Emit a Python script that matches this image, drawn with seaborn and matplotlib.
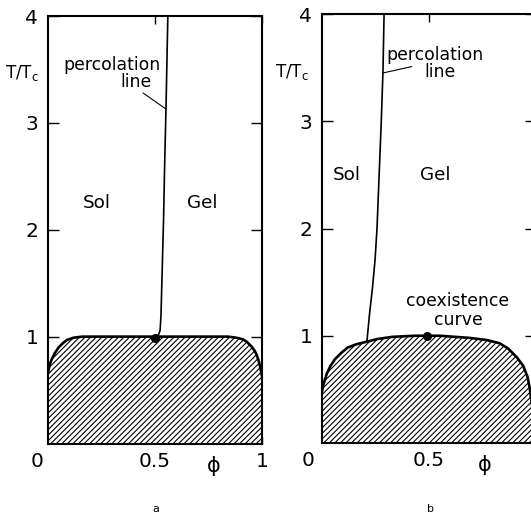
import matplotlib
matplotlib.use("Agg")
import matplotlib.pyplot as plt
import seaborn as sns

sns.set_theme(style="white")
plt.rcParams["font.family"] = ["DejaVu Sans"]
plt.rcParams["hatch.linewidth"] = 0.8
plt.rcParams["hatch.color"] = "black"
plt.rcParams["mathtext.default"] = "regular"

# ---- data ----
phi_coex_a = [0.0, 0.005, 0.01, 0.02, 0.033, 0.05, 0.07, 0.09, 0.12, 0.16, 0.5,
              0.84, 0.88, 0.91, 0.93, 0.95, 0.965, 0.975, 0.985, 0.993, 1.0]
T_coex_a = [0.66, 0.71, 0.75, 0.80, 0.85, 0.90, 0.94, 0.97, 0.99, 1.0, 1.0,
            1.0, 0.99, 0.975, 0.95, 0.91, 0.87, 0.83, 0.77, 0.70, 0.63]
phi_perc_a = [0.5, 0.515, 0.524, 0.528, 0.532, 0.536, 0.54, 0.545, 0.551, 0.556, 0.56]
T_perc_a = [0.99, 1.01, 1.06, 1.2, 1.5, 1.8, 2.1, 2.6, 3.1, 3.6, 4.0]
crit_a = (0.5, 0.99)

phi_coex_b = [0.0, 0.005, 0.012, 0.023, 0.04, 0.06, 0.09, 0.12, 0.16, 0.2, 0.26, 0.33,
              0.435, 0.55, 0.69, 0.77, 0.83, 0.87, 0.91, 0.94, 0.96, 0.97, 0.98, 0.99, 1.0]
T_coex_b = [0.48, 0.53, 0.58, 0.65, 0.72, 0.78, 0.84, 0.89, 0.92, 0.94, 0.97, 0.99,
            1.0, 1.0, 0.98, 0.96, 0.93, 0.88, 0.80, 0.72, 0.62, 0.52, 0.37, 0.22, 0.0]
phi_perc_b = [0.21, 0.222, 0.236, 0.248, 0.257, 0.267, 0.277, 0.285, 0.29]
T_perc_b = [0.95, 1.2, 1.45, 1.71, 2.0, 2.5, 3.0, 3.47, 4.0]
crit_b = (0.49, 1.0)

y_ticks = [1, 2, 3, 4]
y_tick_labels = ["1", "2", "3", "4"]
x_ticks = [0.5, 1.0]
x_tick_labels = ["0.5", "1"]

W, H = 531, 517
fig = plt.figure(figsize=(W / 100, H / 100), dpi=100)
fig.patch.set_facecolor("white")

ax_a = fig.add_axes([48 / W, 73.5 / H, 214 / W, 427.5 / H])
ax_b = fig.add_axes([322 / W, 74 / H, 214 / W, 429 / H])


def style(ax):
    ax.set_facecolor("white")
    ax.set_xlim(0, 1)
    ax.set_ylim(0, 4)
    for s in ax.spines.values():
        s.set_visible(True)
        s.set_color("black")
        s.set_linewidth(1.5)
        s.set_zorder(5)
    ax.set_yticks(y_ticks)
    ax.set_yticklabels(y_tick_labels)
    ax.set_xticks(x_ticks)
    ax.set_xticklabels(x_tick_labels)
    ax.tick_params(axis="y", direction="in", length=8, width=1, color="black",
                   left=True, right=True, labelleft=True, labelright=False,
                   pad=7, labelsize=14.5, labelcolor="black")
    ax.tick_params(axis="x", direction="in", length=6, width=1, color="black",
                   bottom=True, top=True, labelbottom=True, labeltop=False,
                   pad=6, labelsize=14.5, labelcolor="black")
    ax.grid(False)
    ax.set_xlabel("")
    ax.set_ylabel("")


def draw(ax, phi_c, T_c, phi_p, T_p, crit):
    ax.fill_between(phi_c, 0, T_c, facecolor="white", edgecolor="black",
                    hatch="//////", linewidth=0, zorder=1)
    sns.lineplot(x=phi_c, y=T_c, ax=ax, color="black", linewidth=1.9,
                 sort=False, estimator=None, zorder=3)
    sns.lineplot(x=phi_p, y=T_p, ax=ax, color="black", linewidth=1.2,
                 sort=False, estimator=None, zorder=3)
    ax.plot([crit[0]], [crit[1]], "o", color="black", markersize=5.5, zorder=4)


style(ax_a)
style(ax_b)
draw(ax_a, phi_coex_a, T_coex_a, phi_perc_a, T_perc_a, crit_a)
draw(ax_b, phi_coex_b, T_coex_b, phi_perc_b, T_perc_b, crit_b)

txt = dict(color="black", ha="center", va="center")

# panel a labels
ax_a.text(0.30, 3.54, "percolation", fontsize=12.4, **txt)
ax_a.text(0.41, 3.38, "line", fontsize=12.4, **txt)
ax_a.plot([0.444, 0.551], [3.28, 3.13], color="black", linewidth=0.8)
ax_a.text(0.23, 2.25, "Sol", fontsize=13.2, **txt)
ax_a.text(0.72, 2.25, "Gel", fontsize=13.2, **txt)
ax_a.text(-0.12, 3.47, r"T/T$_\mathregular{c}$", fontsize=12, clip_on=False, **txt)
ax_a.text(-0.05, -0.041, "0", fontsize=14.5, transform=ax_a.transAxes, **txt)
ax_a.text(0.775, -0.052, "ϕ", fontsize=15, transform=ax_a.transAxes, **txt)

# panel b labels
ax_b.text(0.53, 3.62, "percolation", fontsize=12.4, **txt)
ax_b.text(0.55, 3.46, "line", fontsize=12.4, **txt)
ax_b.plot([0.42, 0.285], [3.51, 3.45], color="black", linewidth=0.8)
ax_b.text(0.117, 2.50, "Sol", fontsize=13.2, **txt)
ax_b.text(0.53, 2.50, "Gel", fontsize=13.2, **txt)
ax_b.text(0.635, 1.32, "coexistence", fontsize=12.4, **txt)
ax_b.text(0.635, 1.15, "curve", fontsize=12.4, **txt)
ax_b.text(-0.14, 3.46, r"T/T$_\mathregular{c}$", fontsize=12, clip_on=False, **txt)
ax_b.text(-0.065, -0.041, "0", fontsize=14.5, transform=ax_b.transAxes, **txt)
ax_b.text(0.76, -0.052, "ϕ", fontsize=15, transform=ax_b.transAxes, **txt)

fig.text(156 / W, 1 - 509 / H, "a", fontsize=8, **txt)
fig.text(430 / W, 1 - 509 / H, "b", fontsize=8, **txt)

fig.savefig("out.png", dpi=100, facecolor="white")
